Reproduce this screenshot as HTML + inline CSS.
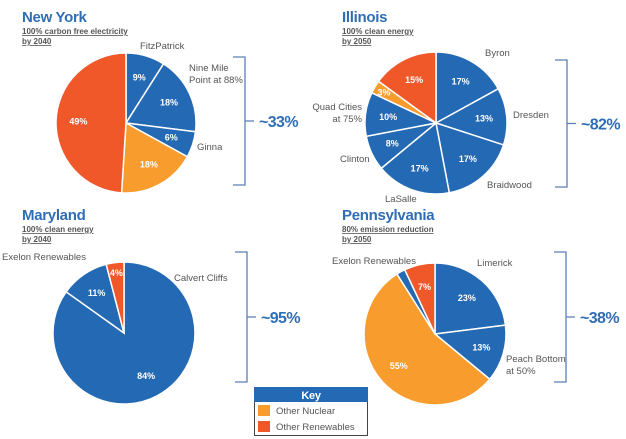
<!DOCTYPE html>
<html><head><meta charset="utf-8">
<style>
body{margin:0;background:#fff;width:626px;height:439px;overflow:hidden;font-family:"Liberation Sans",Arial,sans-serif}
svg{display:block}
.t{font-family:"Liberation Sans",sans-serif;font-weight:bold;font-size:15px;fill:#2f6eb5;letter-spacing:-0.3px}
.s{font-family:"Liberation Sans",sans-serif;font-weight:bold;font-size:8px;fill:#555;text-decoration:underline}
.n{font-family:"Liberation Sans",sans-serif;font-size:9.5px;fill:#555}
.p{font-family:"Liberation Sans",sans-serif;font-size:9px;font-weight:bold;fill:#fff;text-anchor:middle}
.b{font-family:"Liberation Sans",sans-serif;font-size:16px;font-weight:bold;fill:#2f6eb5;letter-spacing:-0.6px}
</style></head><body>
<svg id="c" width="626" height="439"></svg>
<script>
// data
const nyValues=[9,18,6,18,49];
const nyTypes=['e','e','e','n','r'];
const ilValues=[17,13,17,17,8,10,3,15];
const ilTypes=['e','e','e','e','e','e','n','r'];
const mdValues=[84,11,4];
const mdTypes=['e','e','r'];
const paValues=[23,13,55,2,7];
const paTypes=['e','e','n','e','r'];
const totals=['~33%','~82%','~95%','~38%'];

const COL={e:'#2469b3',n:'#f89c2e',r:'#f0582a'};
const NS='http://www.w3.org/2000/svg';
const svg=document.getElementById('c');
function el(tag,attrs,parent){const e=document.createElementNS(NS,tag);for(const k in attrs)e.setAttribute(k,attrs[k]);(parent||svg).appendChild(e);return e;}
function txt(x,y,s,cls,name,anchor){const e=el('text',{x:x,y:y,class:cls});if(anchor)e.setAttribute('text-anchor',anchor);e.textContent=s;


return e;}
function pie(cx,cy,r,vals,types,name){
  const g=el('g',{});
  
  
  const tot=vals.reduce((a,b)=>a+b,0);let a0=0;
  vals.forEach((v,i)=>{
    const a1=a0+v/tot*2*Math.PI;
    const x0=cx+r*Math.sin(a0),y0=cy-r*Math.cos(a0),x1=cx+r*Math.sin(a1),y1=cy-r*Math.cos(a1);
    const p=el('path',{d:`M${cx},${cy}L${x0},${y0}A${r},${r} 0 ${a1-a0>Math.PI?1:0} 1 ${x1},${y1}Z`,fill:COL[types[i]],stroke:'#fff','stroke-width':1.5},g);
    
    
    if(v>=3){const m=(a0+a1)/2,rr=v<5?r*0.85:r*0.68;
      const t=txt(cx+rr*Math.sin(m),cy-rr*Math.cos(m)+3,v+'%','p',name+'-value-'+i);
      if(types[i]!='e')t.setAttribute('font-weight','normal');}
    a0=a1;});
}
function bracket(x,y0,y1,label,name){
  const ym=(y0+y1)/2;
  const p=el('path',{d:`M${x-12},${y0}H${x}V${y1}H${x-12}M${x},${ym}H${x+9}`,fill:'none',stroke:'#5b7fb5','stroke-width':1.3});
  
  
  txt(x+14,ym+6,label,'b',name+'-total');
}
// titles
txt(22,22,'New York','t','ny-title');txt(22,34,'100% carbon free electricity','s','ny-subtitle');txt(22,44,'by 2040','s','ny-subtitle-2');
txt(342,22,'Illinois','t','il-title');txt(342,34,'100% clean energy','s','il-subtitle');txt(342,44,'by 2050','s','il-subtitle-2');
txt(22,220,'Maryland','t','md-title');txt(22,232,'100% clean energy','s','md-subtitle');txt(22,242,'by 2040','s','md-subtitle-2');
txt(342,220,'Pennsylvania','t','pa-title');txt(342,232,'80% emission reduction','s','pa-subtitle');txt(342,242,'by 2050','s','pa-subtitle-2');

pie(126,123,70,nyValues,nyTypes,'ny-pie');
pie(436,123,71,ilValues,ilTypes,'il-pie');
pie(124,333,71,mdValues,mdTypes,'md-pie');
pie(435,334,71,paValues,paTypes,'pa-pie');

bracket(245,57,185,totals[0],'ny');
bracket(567,60,187,totals[1],'il');
bracket(247,252,382,totals[2],'md');
bracket(566,252,382,totals[3],'pa');

// names
txt(140,49,'FitzPatrick','n','ny-fitzpatrick');txt(189,71,'Nine Mile','n','ny-ninemile');txt(189,83,'Point at 88%','n','ny-ninemile-2');txt(197,150,'Ginna','n','ny-ginna');
txt(485,56,'Byron','n','il-byron');txt(513,118,'Dresden','n','il-dresden');txt(487,188,'Braidwood','n','il-braidwood');txt(385,202,'LaSalle','n','il-lasalle');
txt(340,162,'Clinton','n','il-clinton');txt(362,110,'Quad Cities','n','il-quadcities','end');txt(362,122,'at 75%','n','il-quadcities-2','end');
txt(2,260,'Exelon Renewables','n','md-exelon');txt(174,281,'Calvert Cliffs','n','md-calvert');
txt(332,264,'Exelon Renewables','n','pa-exelon');txt(477,266,'Limerick','n','pa-limerick');txt(506,362,'Peach Bottom','n','pa-peachbottom');txt(506,374,'at 50%','n','pa-peachbottom-2');

// key
const k=el('g',{});


el('rect',{x:254.5,y:387.5,width:113,height:48,fill:'#fff',stroke:'#444','stroke-width':1},k);
el('rect',{x:254,y:387,width:114,height:15,fill:'#2469b3'},k);
txt(311,399,'Key','t','legend-title','middle').setAttribute('style','font-size:11px;fill:#fff');
el('rect',{x:258,y:405,width:12,height:11,fill:COL.n},k);
txt(276,414,'Other Nuclear','n','legend-entry-nuclear');
el('rect',{x:258,y:421,width:12,height:11,fill:COL.r},k);
txt(276,430,'Other Renewables','n','legend-entry-renewables');
</script>
</body></html>
